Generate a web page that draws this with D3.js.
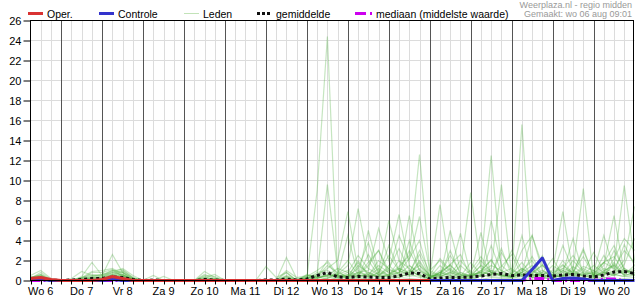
<!DOCTYPE html>
<html>
<head>
<meta charset="UTF-8">
<script src="https://d3js.org/d3.v7.min.js"></script>
<style>
  body { margin: 0; background: #fff; }
  svg { display: block; font-family: "Liberation Sans", Arial, sans-serif; }
</style>
</head>
<body>
<script>
// tijdas: 6-uurlijks vanaf wo 6 aug 06:00 t/m do 21 aug 00:00 (60 punten)
var startTime = new Date(2025, 7, 6, 6);
var endTime = new Date(2025, 7, 21, 0);
var stepHours = 6;

var dayLabels = ["Wo 6", "Do 7", "Vr 8", "Za 9", "Zo 10", "Ma 11", "Di 12", "Wo 13",
  "Do 14", "Vr 15", "Za 16", "Zo 17", "Ma 18", "Di 19", "Wo 20"];
var yTicks = [0, 2, 4, 6, 8, 10, 12, 14, 16, 18, 20, 22, 24, 26];

var oper = [0.2,0.3,0.1, 0,0,0,0, 0.1,0.4,0.2,0, 0,0,0,0, 0,0,0,0, 0,0,0,0,
  0,0,0,0, 0,0,0,0, 0,0,0,0, 0,0,0,0, 0];
var controle = [0.1,0.1,0, 0,0,0,0, 0,0.1,0,0, 0,0,0,0, 0,0,0,0, 0,0,0,0,
  0,0,0,0, 0,0,0,0, 0,0,0,0, 0,0,0,0, 0,0,0,0, 0,0,0,0, 0,0,1.1,2.25,
  0,0.2,0.25,0.15, 0,0,0,0, 0];
var gemiddelde = [0.15,0.25,0.05, 0,0.05,0.1,0.2, 0.2,0.35,0.3,0.1, 0,0.05,0,0,
  0,0,0.1,0.05, 0,0,0,0, 0.05,0.05,0.15,0.05, 0.15,0.5,0.8,0.35,
  0.3,0.4,0.35,0.3, 0.3,0.45,0.75,0.7, 0.15,0.25,0.3,0.3, 0.35,0.45,0.6,0.7,
  0.5,0.55,0.5,0.5, 0.45,0.55,0.6,0.45, 0.35,0.55,0.85,0.9, 0.7];
var mediaan = [0,0,0, 0,0,0,0, 0,0,0,0, 0,0,0,0, 0,0,0,0, 0,0,0,0, 0,0,0,0,
  0,0,0,0, 0,0,0,0, 0,0,0,0, 0,0,0,0, 0,0,0,0, 0,0,0.2,0.2,
  0,0,0,0, 0,0.15,0.15,0, 0];

var leden = [
  [0.5,1.0,0.2, 0,0,0.3,0.9, 1.0,1.2,0.6,0.1, 0,0,0,0, 0,0,0,0, 0,0,0,0, 0,0,0.2,0, 0.3,9.0,24.4,0.5, 0.2,1.5,0.8,0.3, 0.5,2.0,1.2,0.4, 0.2,0.8,1.5,0.6, 0.3,0.9,2.1,0.5, 0.4,1.2,0.6,0.3, 0.2,1.0,0.5,0.3, 0.6,1.8,2.4,0.8, 1.2],
  [0.3,0.6,0, 0,0,0.4,1.8, 0.5,2.6,0.8,0, 0,0.5,0,0, 0,0,0.9,0.3, 0,0,0,0, 0,0,2.3,0.2, 0.4,0.6,9.6,1.0, 0.2,0.5,1.8,3.0, 0.6,1.4,2.5,12.6, 1.0,0.5,0.3,0.2, 0,0.5,1.0,0.4, 0.3,0.8,4.5,1.0, 0.5,1.2,0.8,3.2, 0.4,0.9,1.6,0.5, 0.8],
  [0.2,0.8,0.1, 0,0.2,0.9,0.5, 0.6,1.0,1.1,0.3, 0,0,0,0, 0,0,0.6,0.2, 0,0,0,0, 1.4,0.3,0.8,0, 0.2,0.5,1.2,2.0, 6.9,1.0,0.4,0.8, 2.5,1.0,0.5,2.0, 0.4,7.6,1.0,0.3, 0.2,0.6,1.2,9.6, 0.5,0.8,0.3,0.6, 1.0,6.9,0.8,0.5, 0.3,0.6,0.9,2.0, 7.4],
  [0,0.4,0, 0,0,0.2,0.4, 0.3,0.8,1.2,0.5, 0,0,0,0, 0,0,0.3,0.6, 0,0,0,0, 0,0,0.4,0, 0.6,0.3,0.5,0.6, 1.5,7.2,2.0,0.5, 1.0,0.8,6.5,1.5, 0.6,0.4,0.8,4.7, 0.5,1.5,12.5,1.0, 0.3,0.5,0.8,1.5, 0.5,0.4,1.2,9.2, 0.3,0.8,0.5,1.0, 0.5],
  [0.4,0.3,0, 0,0,0.1,0.3, 0.4,0.9,0.5,0.2, 0,0,0,0, 0,0,0,0, 0,0,0,0, 0,0,0.2,0, 0.2,0.3,0.4,0.5, 0.3,0.8,1.0,5.2, 2.0,6.6,1.5,0.8, 0.5,0.3,5.0,1.0, 8.8,1.2,0.8,0.5, 0.3,15.6,1.0,0.4, 0.6,1.5,0.8,0.5, 0.4,1.0,1.5,9.5, 2.0],
  [0.2,0.5,0, 0,0,0.2,0.8, 0.8,1.1,0.4,0, 0,0,0.4,0, 0,0,0.4,0, 0,0,0,0, 0,0,1.0,0.3, 0.5,0.4,2.0,0.6, 4.5,0.5,1.5,3.0, 1.0,4.5,2.0,6.4, 1.0,2.0,0.8,0.5, 0.6,0.8,1.5,1.0, 0.5,3.0,4.5,1.5, 0.8,1.2,2.5,1.0, 0.5,1.5,6.5,0.8, 1.0],
  [0,0.2,0, 0,0,0,0.2, 0.2,0.6,0.9,0.2, 0,0,0,0, 0,0,0,0, 0,0,0,0, 0,0,0,0, 0,0.2,0.6,0.4, 0.8,2.5,1.2,0.6, 3.5,1.0,0.6,1.8, 0.4,0.6,2.5,0.8, 0.4,1.0,0.5,2.8, 1.0,0.6,0.4,0.8, 2.2,0.5,1.0,0.6, 1.5,0.8,3.0,1.2, 0.6],
  [0.1,0.3,0, 0,0,0.3,0.5, 0.5,0.7,1.0,0.3, 0,0,0,0, 0,0,0.5,0.4, 0,0,0,0, 0,0,0.8,0, 0.3,0.4,1.5,0.8, 0.4,1.2,3.8,0.6, 1.2,3.2,1.0,0.5, 0.2,0.8,1.6,0.4, 1.0,2.4,0.8,0.6, 0.5,1.0,2.0,0.4, 0.5,0.8,4.2,0.6, 0.8,4.5,1.2,0.6, 1.5],
  [0,0,0, 0,0,0,0, 0,0.3,0.5,0.1, 0,0,0,0, 0,0,0,0, 0,0,0,0, 0,0,0,0, 0.5,0.3,0.2,0.8, 2.0,0.6,0.4,1.2, 0.5,0.8,2.2,4.0, 0.3,1.5,0.6,2.0, 0.8,0.4,6.0,1.5, 0.6,1.8,0.5,1.0, 0.4,2.0,0.6,1.4, 1.0,0.5,2.2,4.2, 3.0],
  [0.3,0.5,0, 0,0,0.1,0.2, 0.3,0.5,0.6,0.1, 0,0,0,0, 0,0,0,0, 0,0,0,0, 0,0,0,0, 0,0.5,0.8,0.3, 0.6,0.4,5.0,1.0, 0.5,1.2,0.7,3.0, 0.8,0.5,1.2,0.4, 1.8,0.6,3.5,0.8, 0.4,0.6,1.2,0.4, 0.6,0.3,0.8,2.4, 0.5,1.2,0.8,3.6, 1.5],
  [0,0,0, 0,0,0,0.3, 0.4,0.6,0.2,0, 0,0,0,0, 0,0,0,0, 0,0,0,0, 0,0,0,0, 0,0.2,0.5,0.6, 1.0,0.5,0.3,0.8, 6.0,2.0,0.5,1.2, 0.3,0.8,0.4,1.5, 0.6,4.8,0.5,0.8, 1.2,0.4,0.6,2.5, 0.3,0.5,1.4,0.7, 0.4,0.8,0.5,1.2, 0.6],
  [0.2,0.4,0, 0,0,0.2,0.4, 0.6,0.8,0.5,0, 0,0,0,0, 0,0,0.2,0.2, 0,0,0,0, 0,0,0.4,0, 0.2,0.8,1.0,0.5, 0.3,2.0,0.6,1.5, 0.8,0.5,4.0,1.0, 0.5,2.2,1.0,0.6, 0.3,1.0,2.0,0.5, 0.7,4.5,0.6,1.6, 0.5,1.0,0.5,0.8, 2.8,1.0,0.6,1.6, 4.2],
  [0,0.1,0, 0,0,0,0, 0,0.4,0.3,0, 0,0,0,0, 0,0,0,0, 0,0,0,0, 0,0,0,0, 0,0,0.3,0.2, 0.4,0.8,0.5,2.0, 1.2,0.6,1.5,0.6, 0.2,0.5,3.0,0.6, 0.5,0.8,0.6,1.4, 2.6,0.5,1.0,0.3, 0.6,3.5,1.0,0.4, 0.5,0.6,1.5,0.5, 0.8],
  [0.1,0.2,0, 0,0,0.1,0.2, 0.2,0.5,0.8,0.2, 0,0,0,0, 0,0,0.1,0.1, 0,0,0,0, 0,0,0.1,0, 0.2,0.6,0.4,0.3, 0.5,0.3,0.8,0.4, 0.6,1.2,0.8,2.6, 0.4,0.6,0.3,0.8, 0.4,1.5,0.8,0.6, 0.3,0.8,1.5,0.6, 0.4,0.6,2.0,0.8, 0.6,2.5,1.0,0.8, 1.0],
  [0,0,0, 0,0,0,0, 0,0.2,0.4,0, 0,0,0,0, 0,0,0,0, 0,0,0,0, 0,0,0,0, 0,0,0.2,0.6, 0.3,0.5,0.4,0.6, 0.4,0.5,1.0,0.5, 0.2,0.4,0.8,0.3, 0.5,0.8,0.6,0.5, 0.4,0.6,0.3,0.8, 0.5,0.4,0.6,0.5, 0.8,0.4,1.8,0.6, 0.5],
  [0.2,0.6,0.1, 0,0,0.3,0.6, 0.5,1.0,0.8,0.2, 0,0,0,0, 0,0,0.3,0.2, 0,0,0,0, 0,0,0.5,0.1, 0.4,1.0,1.8,0.4, 0.6,0.4,2.6,0.8, 0.5,0.8,3.0,1.0, 0.3,1.0,0.5,0.2, 0.6,2.0,0.8,0.4, 0.5,1.2,0.6,0.5, 1.5,0.8,0.5,1.2, 0.6,1.8,3.5,1.0, 0.6],
  [0,0,0, 0,0,0,0, 0,0,0.2,0, 0,0,0,0, 0,0,0,0, 0,0,0,0, 0,0,0,0, 0,0,0,0.3, 0.2,0.3,0.2,0.5, 0.3,0.4,0.6,0.3, 0.1,0.3,0.2,0.4, 0.2,0.5,0.4,0.3, 0.2,0.4,0.3,0.2, 0.3,0.5,0.4,0.2, 0.3,0.2,0.6,0.4, 0.3],
  [0,0.3,0, 0,0,0,0.1, 0.1,0.3,0.6,0.1, 0,0,0,0, 0,0,0,0, 0,0,0,0, 0,0,0,0, 0.3,0.2,0.6,0.4, 0.5,1.8,0.5,0.4, 0.5,0.3,0.8,1.5, 0.3,0.6,1.6,2.6, 0.4,0.6,1.0,0.8, 3.0,1.0,0.5,0.6, 0.8,1.6,0.5,0.6, 1.0,1.8,1.2,3.0, 1.8],
  [0,0,0, 0,0,0,0, 0,0.1,0.1,0, 0,0,0,0, 0,0,0,0, 0,0,0,0, 0,0,0,0, 0,0,0.1,0.1, 0.1,0.2,0.1,0.2, 0.2,0.3,0.2,0.1, 0,0.2,0.1,0.1, 0.2,0.1,0.3,0.2, 0.1,0.2,0.1,0.3, 0.1,0.2,0.1,0.1, 0.2,0.3,0.1,0.2, 0.1],
  [0.1,0.2,0, 0,0,0.1,0.3, 0.3,0.6,0.4,0.1, 0,0,0,0, 0,0,0.2,0.1, 0,0,0,0, 0,0,0.3,0, 0.1,0.3,0.5,1.2, 0.8,0.5,0.6,0.4, 1.5,0.6,0.4,0.6, 0.3,0.8,0.5,0.4, 0.6,0.4,0.6,3.2, 0.5,0.8,2.4,0.6, 0.3,0.5,0.8,3.0, 0.5,0.8,0.6,0.4, 0.5]
];

var width = 635, height = 300;
var plotLeft = 30.5, plotRight = 634.5, plotTop = 20.5, plotBottom = 280.5;

var svg = d3.select("body").append("svg")
  .attr("width", width)
  .attr("height", height);

var x = d3.scaleTime().domain([startTime, endTime]).range([plotLeft, plotRight]);
var y = d3.scaleLinear().domain([0, 26]).range([plotBottom, plotTop]);

function timeAt(i) {
  return d3.timeHour.offset(startTime, i * stepHours);
}

// rasterlijnen
var sixHours = d3.timeHour.every(6).range(startTime, endTime);
var midnights = d3.timeDay.range(d3.timeHour.offset(startTime, 1), endTime);

svg.append("g").selectAll("line").data(yTicks.slice(1, -1)).join("line")
  .attr("x1", plotLeft).attr("x2", plotRight)
  .attr("y1", d => y(d)).attr("y2", d => y(d))
  .attr("stroke", "#dcdcdc");

svg.append("g").selectAll("line")
  .data(sixHours.filter(d => d.getHours() != 0 && +d != +startTime)).join("line")
  .attr("x1", d => Math.round(x(d)) + 0.5).attr("x2", d => Math.round(x(d)) + 0.5)
  .attr("y1", plotTop).attr("y2", plotBottom)
  .attr("stroke", "#dcdcdc");

svg.append("g").selectAll("line").data(midnights).join("line")
  .attr("x1", d => Math.round(x(d)) + 0.5).attr("x2", d => Math.round(x(d)) + 0.5)
  .attr("y1", plotTop).attr("y2", plotBottom)
  .attr("stroke", "#555");

// lijnen
var line = d3.line()
  .x((d, i) => x(timeAt(i)))
  .y(d => y(d));

svg.append("g").selectAll("path").data(leden).join("path")
  .attr("d", line)
  .attr("fill", "none")
  .attr("stroke", "#4caf3a")
  .attr("stroke-opacity", 0.32)
  .attr("stroke-width", 1.2);

svg.append("path").datum(mediaan)
  .attr("d", line)
  .attr("fill", "none")
  .attr("stroke", "#cc00ee")
  .attr("stroke-width", 3)
  .attr("stroke-dasharray", "10,3,2,3");

svg.append("path").datum(gemiddelde)
  .attr("d", line)
  .attr("fill", "none")
  .attr("stroke", "#111")
  .attr("stroke-width", 3)
  .attr("stroke-dasharray", "3,3");

svg.append("path").datum(controle)
  .attr("d", line)
  .attr("fill", "none")
  .attr("stroke", "#3333cc")
  .attr("stroke-width", 3)
  .attr("stroke-linejoin", "round");

svg.append("path").datum(oper)
  .attr("d", line)
  .attr("fill", "none")
  .attr("stroke", "#d93232")
  .attr("stroke-width", 3)
  .attr("stroke-linejoin", "round");

// kader
svg.append("rect")
  .attr("x", plotLeft).attr("y", plotTop)
  .attr("width", plotRight - plotLeft - 1).attr("height", plotBottom - plotTop)
  .attr("fill", "none")
  .attr("stroke", "#000");

// y-as
var yAxis = svg.append("g").attr("transform", "translate(" + plotLeft + ",0)")
  .call(d3.axisLeft(y).tickValues(yTicks).tickSize(7).tickPadding(2).tickSizeOuter(0));
yAxis.select(".domain").remove();
yAxis.selectAll("text").attr("font-size", 11).attr("fill", "#000")
  .attr("font-family", "Liberation Sans, Arial, sans-serif");

// x-as: streepjes per 6 uur, dagnamen op 12 uur
svg.append("g").selectAll("line").data(sixHours).join("line")
  .attr("x1", d => Math.round(x(d)) + 0.5).attr("x2", d => Math.round(x(d)) + 0.5)
  .attr("y1", plotBottom).attr("y2", plotBottom + 4)
  .attr("stroke", "#000");

svg.append("g").selectAll("text").data(dayLabels).join("text")
  .attr("x", (d, i) => x(d3.timeHour.offset(d3.timeDay.offset(d3.timeDay.floor(startTime), i), 12)))
  .attr("y", 295)
  .attr("text-anchor", "middle")
  .attr("font-size", 11)
  .text(d => d);

// legenda
var legend = [
  { name: "Oper.", x: 28, color: "#d93232", dash: null },
  { name: "Controle", x: 99, color: "#3333cc", dash: null },
  { name: "Leden", x: 184, color: "#c2e3b8", dash: null, w: 1 },
  { name: "gemiddelde", x: 257, color: "#111", dash: "3,2" },
  { name: "mediaan (middelste waarde)", x: 355, color: "#cc00ee", dash: "11,4,2,10" }
];
var lg = svg.append("g").selectAll("g").data(legend).join("g")
  .attr("transform", d => "translate(" + d.x + ",0)");
lg.append("line")
  .attr("x1", 0).attr("x2", d => d.dash && d.dash.length > 5 ? 17 : 15)
  .attr("y1", 13.5).attr("y2", 13.5)
  .attr("stroke", d => d.color)
  .attr("stroke-width", d => d.w || 3)
  .attr("stroke-dasharray", d => d.dash);
lg.append("text")
  .attr("x", d => d.dash && d.dash.length > 5 ? 21 : 19)
  .attr("y", 17.5)
  .attr("font-size", 10.5)
  .text(d => d.name);

svg.append("text").attr("x", 632).attr("y", 8).attr("text-anchor", "end")
  .attr("font-size", 9).attr("fill", "#999").text("Weerplaza.nl - regio midden");
svg.append("text").attr("x", 632).attr("y", 17).attr("text-anchor", "end")
  .attr("font-size", 9).attr("fill", "#999").text("Gemaakt: wo 06 aug 09:01");
</script>
</body>
</html>
